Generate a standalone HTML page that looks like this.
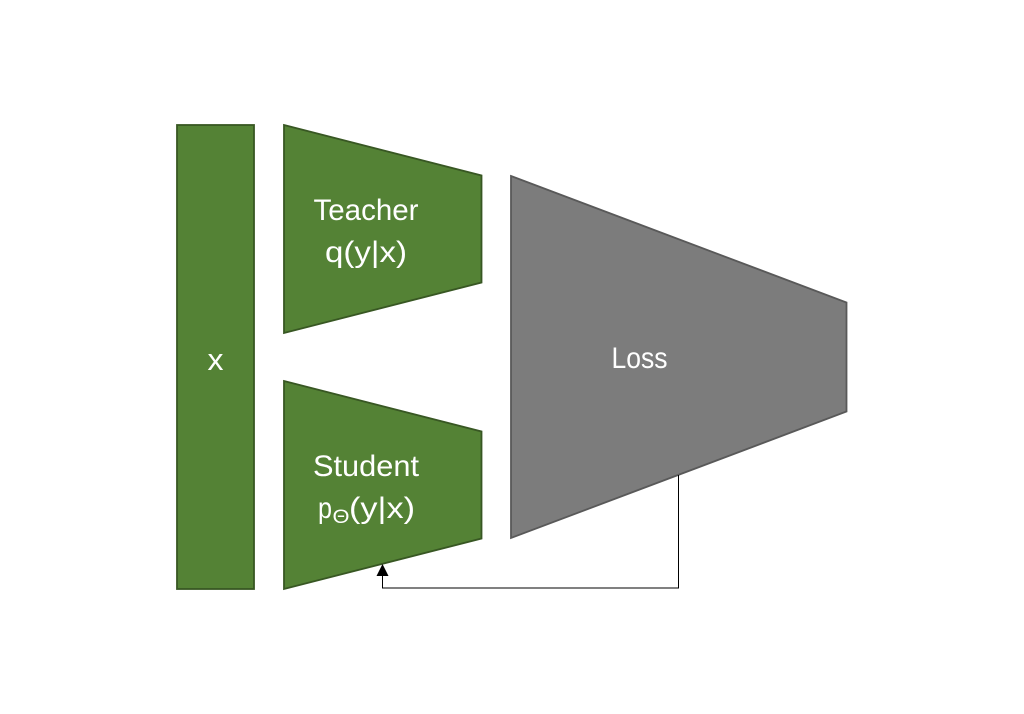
<!DOCTYPE html>
<html>
<head>
<meta charset="utf-8">
<style>
html,body{margin:0;padding:0;background:#fff;}
svg{display:block;}
text{font-family:"Liberation Sans","DejaVu Sans",sans-serif;fill:#fff;font-size:30px;text-anchor:middle;}
</style>
</head>
<body>
<svg width="1024" height="714" viewBox="0 0 1024 714" xmlns="http://www.w3.org/2000/svg">
<rect x="177" y="125" width="77" height="464" fill="#548235" stroke="#385723" stroke-width="1.800"/>
<polygon points="284,125 481.500,175.500 481.500,282.500 284,333" fill="#548235" stroke="#385723" stroke-width="1.800"/>
<polygon points="284,381 481.500,431.500 481.500,538.500 284,589" fill="#548235" stroke="#385723" stroke-width="1.800"/>
<polygon points="511,176 846.500,302.500 846.500,411.500 511,538" fill="#7c7c7c" stroke="#595959" stroke-width="1.800"/>
<polyline points="678.500,475 678.500,588 382.500,588 382.500,573" fill="none" stroke="#000" stroke-width="1"/>
<polygon points="382.500,564 376.500,576 388.500,576" fill="#000"/>
<text x="215.500" y="370" style="font-size:31px" textLength="16" lengthAdjust="spacingAndGlyphs">x</text>
<text x="366" y="220" textLength="105" lengthAdjust="spacingAndGlyphs">Teacher</text>
<text x="366" y="262" textLength="82" lengthAdjust="spacingAndGlyphs">q(y|x)</text>
<text x="366" y="476" textLength="106" lengthAdjust="spacingAndGlyphs">Student</text>
<text x="325" y="518" textLength="14" lengthAdjust="spacingAndGlyphs">p</text>
<text x="341" y="523" style="font-size:19px" textLength="17" lengthAdjust="spacingAndGlyphs">Θ</text>
<text x="382" y="518" textLength="66" lengthAdjust="spacingAndGlyphs">(y|x)</text>
<text x="639.500" y="368" textLength="56" lengthAdjust="spacingAndGlyphs">Loss</text>
</svg>
</body>
</html>
